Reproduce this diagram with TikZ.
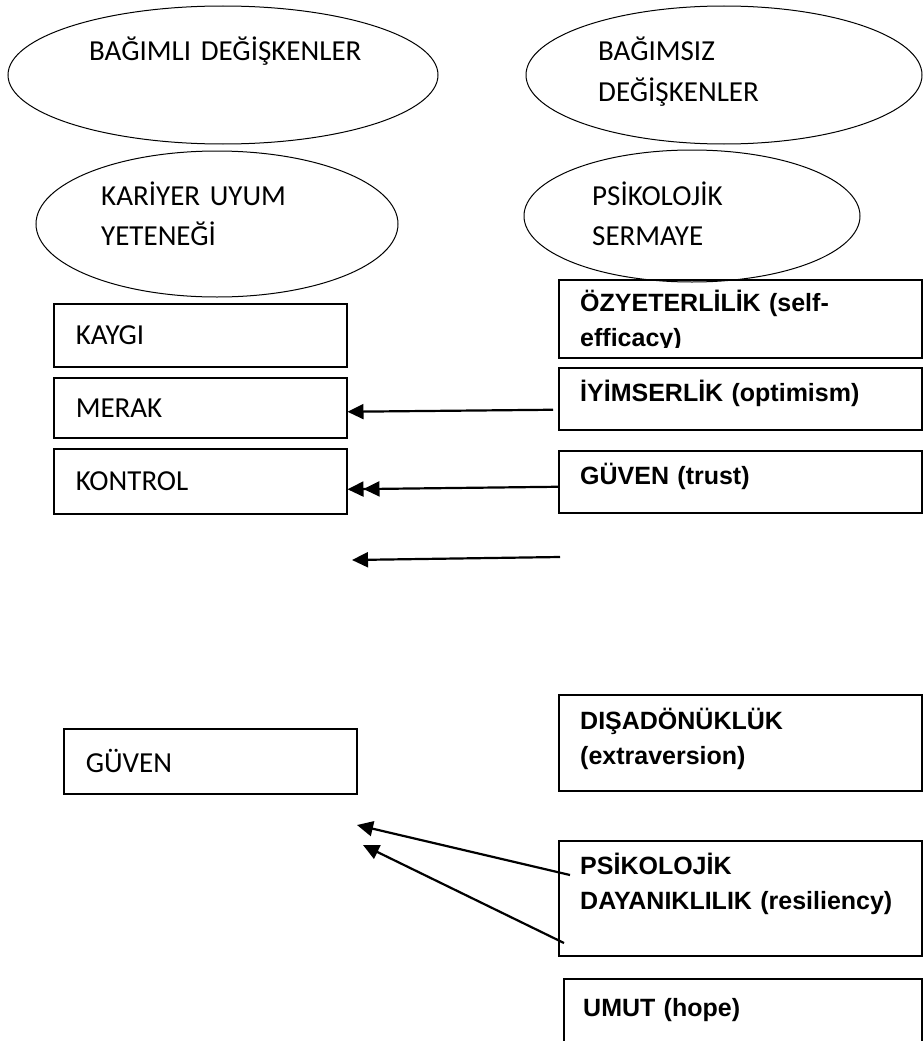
\documentclass[tikz,border=0pt]{standalone}
\usepackage{fontspec}
\setmainfont{Carlito}
\newfontfamily\arialfont{Liberation Sans}
\usetikzlibrary{shapes.geometric, arrows.meta, calc}

\tikzset{
	oval/.style={draw, ellipse, line width=1pt, inner sep=0pt},
	etext/.style={anchor=base west, inner sep=0pt, text width=300pt, align=left, font=\fontsize{29}{40}\selectfont},
	lbox/.style={draw, line width=1.5pt, anchor=north west, minimum width=293pt, inner xsep=22pt, text width=249pt, align=left, font=\fontsize{29}{35}\selectfont},
	rbox/.style={draw, line width=1.5pt, anchor=north west, minimum width=363pt},
	rtext/.style={anchor=base west, inner sep=0pt, text width=335pt, align=left, font=\arialfont\bfseries\fontsize{25}{35}\selectfont},
	arr/.style={line width=2.2pt, -{Triangle[length=16pt, width=15pt]}},
	darr/.style={line width=2.2pt, -{Triangle[length=16pt, width=15pt] Triangle[length=16pt, width=15pt]}}
}

\begin{document}
\begin{tikzpicture}[x=1pt, y=-1pt]
\useasboundingbox (0,0) rectangle (923,1041);

% ellipses
\node[oval, minimum width=430pt, minimum height=138pt] (bagimli) at (223,75) {};
\node[oval, minimum width=396pt, minimum height=138pt] (bagimsiz) at (724,75) {};
\node[oval, minimum width=362pt, minimum height=146pt] (kariyer) at (217,224) {};
\node[oval, minimum width=336pt, minimum height=132pt] (sermaye) at (692,216) {};

\node[etext] (bagimli-t) at (89,60) {BAĞIMLI DEĞİŞKENLER};
\node[etext] (bagimsiz-t) at (598,61) {BAĞIMSIZ\\DEĞİŞKENLER};
\node[etext] (kariyer-t) at (101,205) {KARİYER UYUM\\YETENEĞİ};
\node[etext] (sermaye-t) at (592,205) {PSİKOLOJİK\\SERMAYE};

% left boxes
\node[lbox, minimum height=63pt] (kaygi) at (53,303) {KAYGI};
\node[lbox, minimum height=60pt] (merak) at (53,377) {MERAK};
\node[lbox, minimum height=65pt] (kontrol) at (53,448) {KONTROL};
\node[lbox, minimum height=65pt] (guven) at (63,728) {GÜVEN};

% right boxes
\node[rbox, minimum height=78pt] (ozyeterlilik) at (558,279) {};
\node[rbox, minimum height=62pt] (iyimserlik) at (558,367) {};
\node[rbox, minimum height=62pt] (guvenr) at (558,450) {};
\node[rbox, minimum height=96pt] (disadonukluk) at (558,694) {};
\node[rbox, minimum height=115pt] (dayaniklilik) at (558,840) {};
\node[rbox, minimum width=358pt, minimum height=100pt] (umut) at (563,978) {};

\begin{scope}
\clip (ozyeterlilik.north west) rectangle ([yshift=11pt]ozyeterlilik.south east);
\node[rtext] (ozyeterlilik-t) at ($(ozyeterlilik.north west)+(22,32)$) {ÖZYETERLİLİK (self-\\efficacy)};
\end{scope}
\node[rtext] (iyimserlik-t) at ($(iyimserlik.north west)+(22,34)$) {İYİMSERLİK (optimism)};
\node[rtext] (guvenr-t) at ($(guvenr.north west)+(22,34)$) {GÜVEN (trust)};
\node[rtext] (disadonukluk-t) at ($(disadonukluk.north west)+(22,35)$) {DIŞADÖNÜKLÜK\\(extraversion)};
\node[rtext] (dayaniklilik-t) at ($(dayaniklilik.north west)+(22,34)$) {PSİKOLOJİK\\DAYANIKLILIK (resiliency)};
\node[rtext] (umut-t) at ($(umut.north west)+(20,38)$) {UMUT (hope)};

% arrows
\coordinate (bos-bas) at (560,557);
\coordinate (bos-uc) at (352,560);
\coordinate (guven-uc1) at (357,825);
\coordinate (guven-uc2) at (363,845);

\draw[arr] ([shift={(-5,11)}]iyimserlik.west) -- ([shift={(0,4)}]merak.east);
\draw[darr] ([shift={(1,5)}]guvenr.west) -- ([shift={(0,8)}]kontrol.east);
\draw[arr] (bos-bas) -- (bos-uc);
\draw[arr] ([shift={(12,35)}]dayaniklilik.north west) -- (guven-uc1);
\draw[arr] ([shift={(6,103)}]dayaniklilik.north west) -- (guven-uc2);

\end{tikzpicture}
\end{document}
